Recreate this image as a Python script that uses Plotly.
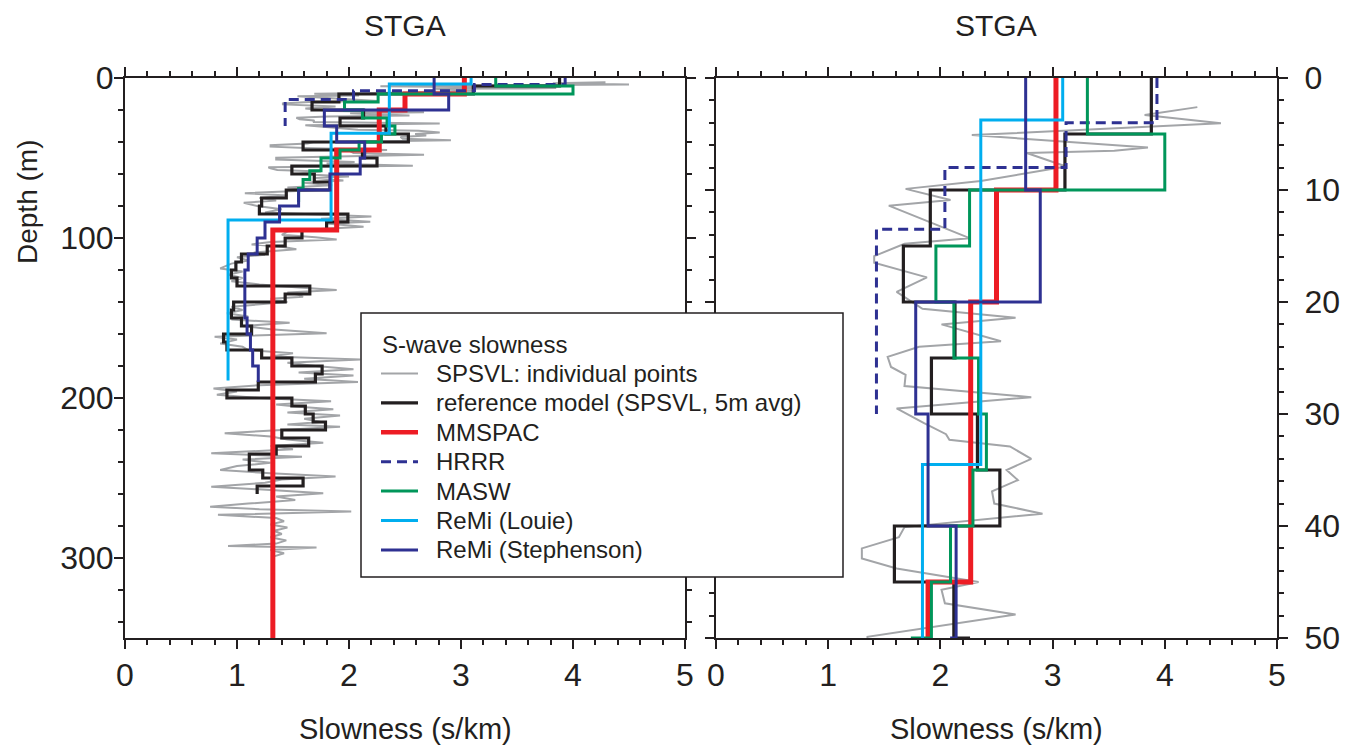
import plotly.graph_objects as go

# ---------------- data (depth in m, slowness in s/km) ----------------
# SPSVL individual points
spsvl_depth = [2.6, 3.3, 4.05, 5.1, 6.2, 6.5, 6.7, 7.9, 9.2, 9.9, 10.9, 11.4, 14.3, 14.8, 15.9,
               16.5, 17.8, 19.1, 20.6, 21.4, 22.0, 23.5, 24.0, 24.9, 25.8, 26.5, 27.5, 28.5, 29.5,
               30.8, 31.8, 32.3, 32.9, 34.0, 35.0, 35.9, 36.9, 38.0, 38.9, 40.1, 41.0, 42.0, 42.9,
               43.8, 45.0, 45.7, 46.9, 47.9, 49.9,
               51.0, 52.5, 53.5, 54.8, 55.8, 56.5, 57.5, 58.5, 60.0, 61.5, 62.5, 64.0, 65.5, 67.0,
               68.5, 70.0, 72.0, 73.5, 75.0, 76.5, 78.0, 80.0, 82.0, 84.0, 86.6, 88.0, 89.8, 91.0,
               92.9, 94.5, 96.0, 98.0, 99.5, 101.0, 102.5, 104.0, 105.5, 107.0, 109.0, 110.5, 112.0,
               114.0, 116.0, 119.0, 121.0, 123.0, 125.0, 127.0, 129.0, 131.0, 132.5, 134.0, 135.5,
               136.7, 138.0, 140.0, 141.5, 143.0, 145.0, 147.0, 149.0, 151.0, 153.0, 155.0, 157.0,
               159.6, 161.7, 163.5, 166.0, 168.0, 170.0, 172.0, 174.0, 176.0, 178.0, 180.0, 182.0,
               184.0, 186.0, 188.0, 190.0, 192.0, 194.0, 196.0, 198.0, 200.0, 202.0, 204.0, 205.5,
               207.0, 209.0, 211.0, 213.0, 215.0, 216.5, 218.0, 220.0, 222.0, 224.0, 226.0, 228.0,
               230.0, 232.0, 234.6, 236.7, 238.5, 240.5, 242.5, 245.0, 247.0, 249.0, 251.0, 253.0,
               255.4, 257.5, 259.6, 261.5, 263.7, 266.0, 267.9, 269.5, 271.0, 273.0, 275.0, 277.0,
               279.0, 281.0, 283.0, 285.0, 287.0, 289.0, 291.0, 292.5, 293.5, 295.0, 297.0, 299.0]
spsvl_slow = [4.29, 3.82, 4.50, 2.28, 3.85, 3.55, 2.77, 3.12, 2.36, 1.69, 2.09, 1.54, 2.26, 1.68, 1.41,
              1.41, 1.88, 1.61, 1.84, 2.67, 2.01, 2.54, 1.81, 1.53, 1.56, 1.69, 1.68, 2.81, 1.61,
              1.85, 2.05, 2.08, 2.62, 2.81, 2.59, 2.69, 2.46, 2.48, 2.91, 1.68, 1.63, 1.30, 1.30,
              1.61, 2.34, 2.01, 2.04, 2.67, 1.35,
              1.35, 2.05, 1.80, 2.57, 1.28, 1.30, 1.36, 1.75, 1.55, 2.00, 1.70, 1.95, 1.60, 1.85,
              1.45, 1.75, 1.07, 1.45, 1.20, 1.35, 1.06, 1.18, 1.40, 1.25, 2.20, 1.75, 2.19, 1.80,
              2.13, 1.70, 1.45, 1.40, 1.70, 1.89, 1.30, 1.13, 1.40, 1.53, 1.15, 1.25, 1.00,
              1.10, 0.95, 0.85, 1.05, 0.92, 1.05, 0.95, 1.20, 1.55, 1.89, 1.45, 1.55,
              1.59, 1.30, 1.45, 1.19, 0.95, 1.05, 0.91, 1.10, 0.95, 1.47, 1.05, 1.30,
              1.80, 0.80, 1.00, 0.85, 1.05, 1.10, 1.50, 1.30, 2.10, 1.45, 1.70, 2.04,
              1.55, 2.04, 1.60, 2.08, 1.20, 0.79, 1.00, 0.82, 1.20, 1.84, 1.35, 1.55,
              1.86, 1.45, 1.92, 1.60, 1.75, 1.45, 1.92, 1.40, 0.89, 1.30, 1.45, 1.77,
              1.30, 1.50, 0.77, 1.58, 1.05, 1.30, 1.00, 0.85, 1.30, 1.88, 1.40, 1.25,
              0.77, 1.30, 1.77, 1.35, 1.52, 1.10, 0.76, 1.20, 2.02, 0.83, 1.35, 1.42,
              1.30, 1.45, 1.33, 1.40, 1.30, 1.44, 1.35, 0.92, 1.71, 1.30, 1.42, 1.33]

# reference model (SPSVL, 5 m average): layer boundaries and slowness per layer
ref_bounds = [0, 5, 10, 15, 20, 25, 30, 35, 40, 45, 50, 55, 60, 65, 70, 75, 80, 85, 90, 95, 100,
              105, 110, 115, 120, 125, 130, 135, 140, 145, 150, 155, 160, 165, 170, 175, 180, 185,
              190, 195, 200, 205, 210, 215, 220, 225, 230, 235, 240, 245, 250, 255, 260]
ref_slow = [3.88, 3.11, 1.91, 1.67, 2.13, 1.92, 2.33, 2.53, 1.59, 2.12, 2.25, 1.49, 1.69, 1.83,
            1.44, 1.22, 1.20, 1.99, 1.80, 1.58, 1.43, 1.27, 1.04, 0.99, 0.95, 1.00, 1.65, 1.43,
            0.97, 0.95, 1.04, 1.13, 0.88, 0.91, 1.22, 1.49, 1.76, 1.70, 1.19, 0.91, 1.49, 1.61,
            1.68, 1.79, 1.40, 1.64, 1.35, 1.11, 1.11, 1.23, 1.59, 1.18]

mmspac_bounds = [0, 10, 20, 45, 95, 350]
mmspac_slow = [3.03, 2.50, 2.27, 1.89, 1.32]

hrrr_bounds = [0, 4, 8, 13.5, 30]
hrrr_slow = [3.93, 3.12, 2.04, 1.43]

masw_bounds = [0, 5, 10, 15, 20, 25, 30, 35, 40, 45, 50, 58, 63.5, 69, 77.5]
masw_slow = [3.31, 4.00, 2.26, 1.96, 2.12, 2.34, 2.41, 2.29, 2.09, 1.92, 1.75, 1.65, 1.59, 1.55]

louie_bounds = [0, 3.75, 34.5, 88.75, 189]
louie_slow = [3.09, 2.36, 1.84, 0.92]

steph_bounds = [0, 10, 20, 30, 40, 50, 60, 70, 80, 90, 100, 110, 120, 150, 160, 170, 180, 190]
steph_slow = [2.76, 2.89, 1.78, 1.89, 2.14, 2.10, 1.83, 1.55, 1.38, 1.25, 1.18, 1.10, 1.07,
              1.09, 1.12, 1.14, 1.19]

legend_title = "S-wave slowness"

# ---------------- figure ----------------
W, H = 1345, 748


def px(x):
    return x / W


def py(y):
    return 1 - y / H


def step(bounds, slows):
    return list(slows) + [slows[-1]], list(bounds)


series = [
    dict(name="SPSVL: individual points", x=spsvl_slow, y=spsvl_depth, color="#a3a5a8", width=2,
         dash="solid"),
    dict(name="reference model (SPSVL, 5m avg)", b=ref_bounds, s=ref_slow, color="#231f20", width=3.2,
         dash="solid"),
    dict(name="MMSPAC", b=mmspac_bounds, s=mmspac_slow, color="#ed1c24", width=5, dash="solid"),
    dict(name="HRRR", b=hrrr_bounds, s=hrrr_slow, color="#2e3192", width=3, dash="10px,6px"),
    dict(name="MASW", b=masw_bounds, s=masw_slow, color="#00965a", width=3, dash="solid"),
    dict(name="ReMi (Louie)", b=louie_bounds, s=louie_slow, color="#00aeef", width=3, dash="solid"),
    dict(name="ReMi (Stephenson)", b=steph_bounds, s=steph_slow, color="#2e3192", width=3,
         dash="solid"),
]

fig = go.Figure()
for panel, (xa, ya) in enumerate([("x", "y"), ("x2", "y2")]):
    for s in series:
        if "b" in s:
            xs, ys = step(s["b"], s["s"])
            shape = "vh"
        else:
            xs, ys = s["x"], s["y"]
            shape = "linear"
        fig.add_trace(go.Scatter(
            x=xs, y=ys, mode="lines", name=s["name"], xaxis=xa, yaxis=ya,
            line=dict(color=s["color"], width=s["width"], dash=s["dash"], shape=shape),
            showlegend=False, hoverinfo="skip"))

font_family = "Liberation Sans, Arial, Helvetica, sans-serif"
tick_font = dict(size=32, color="#231f20", family=font_family)
common_axis = dict(showline=True, linecolor="#231f20", linewidth=2, mirror="ticks", ticks="outside",
                   tickcolor="#231f20", tickwidth=1.5, ticklen=9, showgrid=False, zeroline=False,
                   automargin=False, tickfont=tick_font)


def minor(d):
    return dict(dtick=d, ticklen=5, tickwidth=1.5, tickcolor="#231f20", ticks="outside")


fig.update_layout(
    width=W, height=H, margin=dict(l=0, r=0, t=0, b=0, pad=0),
    paper_bgcolor="white", plot_bgcolor="white",
    font=dict(family=font_family, color="#231f20"),
    showlegend=False,
    xaxis=dict(domain=[px(125), px(685)], range=[0, 5], anchor="y", dtick=1, tick0=0,
               minor=minor(0.2), ticklabelstandoff=-1, **common_axis),
    yaxis=dict(domain=[py(638), py(78)], range=[350, 0], anchor="x", dtick=100, tick0=0,
               minor=minor(20), ticklabelstandoff=-6, **common_axis),
    xaxis2=dict(domain=[px(716), px(1277)], range=[0, 5], anchor="y2", dtick=1, tick0=0,
                minor=minor(0.2), ticklabelstandoff=-1, **common_axis),
    yaxis2=dict(domain=[py(638), py(78)], range=[50, 0], anchor="x2", side="right", dtick=10, tick0=0,
                minor=minor(2), ticklabelstandoff=10, **common_axis),
)

# legend box drawn as shapes + text, built from the series definitions
leg_font = dict(size=24, color="#231f20", family=font_family)
shapes = [dict(type="rect", xref="paper", yref="paper", x0=px(361), x1=px(843), y0=py(577), y1=py(313),
               fillcolor="white", line=dict(color="#231f20", width=1.5), layer="above")]
fig.add_annotation(text=legend_title, x=px(380), y=py(345), xref="paper", yref="paper", showarrow=False,
                   font=leg_font, xanchor="left", yanchor="middle")
for i, s in enumerate(series):
    yy = 373.5 + i * 29.4
    shapes.append(dict(type="line", xref="paper", yref="paper", x0=px(381), x1=px(418), y0=py(yy), y1=py(yy),
                       line=dict(color=s["color"], width=min(s["width"], 4.5), dash=s["dash"]), layer="above"))
    fig.add_annotation(text=s["name"], x=px(434), y=py(yy), xref="paper", yref="paper", showarrow=False,
                       font=leg_font, xanchor="left", yanchor="middle")
fig.update_layout(shapes=shapes)

ann_font = dict(size=30, color="#231f20", family=font_family)
for xc in (405, 996):
    fig.add_annotation(text="STGA", x=px(xc), y=py(25), xref="paper", yref="paper", showarrow=False,
                       font=ann_font, xanchor="center", yanchor="middle")
    fig.add_annotation(text="Slowness (s/km)", x=px(xc), y=py(729), xref="paper", yref="paper",
                       showarrow=False, font=dict(size=29, color="#231f20", family=font_family),
                       xanchor="center", yanchor="middle")
fig.add_annotation(text="Depth (m)", x=px(28), y=py(202), xref="paper", yref="paper", showarrow=False,
                   textangle=-90, font=dict(size=28, color="#231f20", family=font_family),
                   xanchor="center", yanchor="middle")

fig.write_html("out.html")
